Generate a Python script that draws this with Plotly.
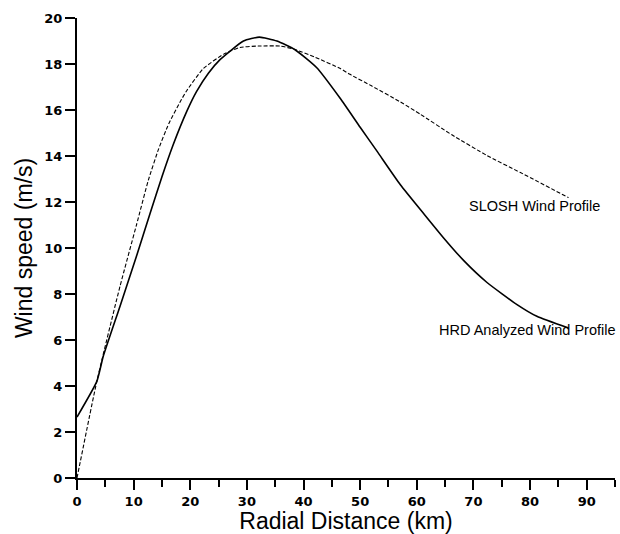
import plotly.graph_objects as go

# HRD analyzed wind profile (solid)
hrd_x = [0, 3.5, 4.65, 7.6, 10.5, 12.9, 15.0, 17.0, 19.4, 21.1, 23.2, 25.3, 29.4, 32.2, 35.3,
         38.5, 42.3, 46.5, 50.0, 53.0, 57.1, 61.2, 64.7, 68.3, 72.4, 77.7, 81.2, 86.8]
hrd_y = [2.65, 4.2, 5.3, 7.47, 9.64, 11.5, 13.1, 14.5, 15.95, 16.8, 17.6, 18.2, 19.0, 19.17, 19.0,
         18.62, 17.85, 16.5, 15.25, 14.2, 12.75, 11.5, 10.45, 9.45, 8.5, 7.54, 7.03, 6.52]

# SLOSH wind profile (dashed)
slosh_x = [0, 3.5, 7.6, 10.5, 12.6, 14.4, 16.2, 18.2, 19.4, 22.3, 25.9, 28.8, 32.0,
           35.9, 38.5, 42.0, 46.5, 48.2, 52.0, 57.1, 60.6, 66.2, 72.4, 78.3, 86.8]
slosh_y = [0, 4.2, 8.34, 11.0, 12.95, 14.3, 15.4, 16.35, 16.85, 17.8, 18.43, 18.72, 18.78,
           18.78, 18.63, 18.3, 17.8, 17.55, 17.05, 16.35, 15.82, 14.92, 14.02, 13.28, 12.19]

x_ticks = [0, 10, 20, 30, 40, 50, 60, 70, 80, 90]
y_ticks = [0, 2, 4, 6, 8, 10, 12, 14, 16, 18, 20]

labels = ["SLOSH Wind Profile", "HRD Analyzed Wind Profile"]
label_x = [68.8, 63.5]
label_y = [11.81, 6.45]

fig = go.Figure()
fig.add_trace(go.Scatter(x=hrd_x, y=hrd_y, mode="lines",
                         line=dict(color="black", width=1.6, shape="spline", smoothing=0.5),
                         cliponaxis=False, showlegend=False))
fig.add_trace(go.Scatter(x=slosh_x, y=slosh_y, mode="lines",
                         line=dict(color="black", width=1.1, dash="4px,2px", shape="spline", smoothing=0.5),
                         cliponaxis=False, showlegend=False))

for t, lx, ly in zip(labels, label_x, label_y):
    fig.add_annotation(x=lx, y=ly, text=t, showarrow=False, xanchor="left", yanchor="middle",
                       font=dict(family="Liberation Sans", size=14.5, color="black"))

tickfont = dict(family="DejaVu Sans", size=13, color="black", weight="bold")
fig.update_layout(
    width=620, height=534,
    margin=dict(l=77, r=5, t=18, b=56),
    paper_bgcolor="white", plot_bgcolor="white",
    xaxis=dict(range=[0, 95], tickvals=x_ticks, ticks="outside", ticklen=10, tickwidth=1.5,
               tickcolor="black", showline=True, linewidth=2, linecolor="black",
               showgrid=False, zeroline=False, tickfont=tickfont,
               minor=dict(dtick=5, ticks="outside", ticklen=7, tickwidth=1.5, tickcolor="black"),
               title=dict(text="Radial Distance (km)", standoff=3,
                          font=dict(family="Liberation Sans", size=23, color="black"))),
    yaxis=dict(range=[0, 20], tickvals=y_ticks, ticks="outside", ticklen=10, tickwidth=1.5,
               tickcolor="black", showline=True, linewidth=2, linecolor="black",
               showgrid=False, zeroline=False, tickfont=tickfont,
               title=dict(text="Wind speed (m/s)", standoff=5,
                          font=dict(family="Liberation Sans", size=23, color="black"))),
)

fig.write_html("out.html")
